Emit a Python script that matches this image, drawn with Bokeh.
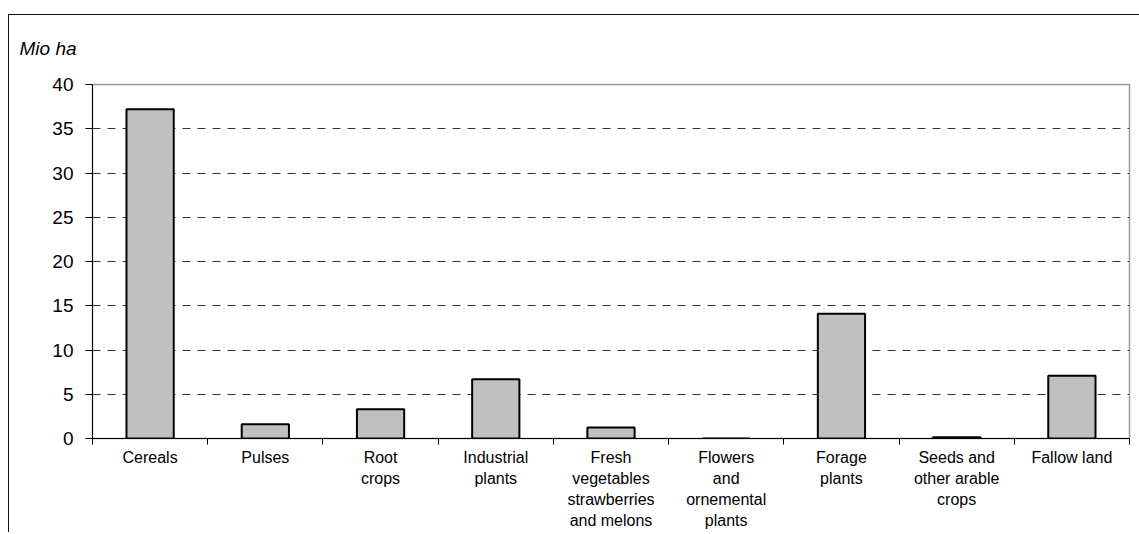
from bokeh.plotting import figure
from bokeh.models import Range1d, FixedTicker, LinearAxis, Grid
from bokeh.embed import file_html
from bokeh.resources import INLINE

categories = ["Cereals", "Pulses", "Root\ncrops", "Industrial\nplants",
              "Fresh\nvegetables\nstrawberries\nand melons",
              "Flowers\nand\nornemental\nplants", "Forage\nplants",
              "Seeds and\nother arable\ncrops", "Fallow land"]
values = [37.2, 1.6, 3.3, 6.7, 1.25, 0.0, 14.1, 0.15, 7.1]
y_ticks = [0, 5, 10, 15, 20, 25, 30, 35, 40]
unit_label = "Mio ha"

n = len(categories)
centers = [i + 0.5 for i in range(n)]
bounds = [float(i) for i in range(n + 1)]

p = figure(frame_width=1037, frame_height=354, output_backend="svg", toolbar_location=None,
           x_range=Range1d(0, n), y_range=Range1d(0, 40),
           x_axis_type=None, y_axis_type=None, title=unit_label + "\n",
           min_border_left=83, min_border_right=10, min_border_top=69, min_border_bottom=81)
p.styles = {"margin-top": "14px", "margin-left": "8px",
            "border-top": "1px solid #111", "border-left": "1px solid #111"}
p.background_fill_color = "white"
p.border_fill_color = "white"
p.outline_line_color = "#999999"
p.outline_line_width = 1.5

p.title.text_font = "Liberation Sans"
p.title.text_font_style = "italic"
p.title.text_font_size = "19px"
p.title.text_color = "black"
p.title.align = "left"
p.title.offset = -73
p.title.standoff = 10

p.vbar(x=centers, top=values, width=0.41, bottom=0, fill_color="#c0c0c0",
       line_color="black", line_width=2)

yaxis = LinearAxis(ticker=FixedTicker(ticks=y_ticks))
yaxis.axis_line_color = "black"
yaxis.axis_line_width = 1
yaxis.major_tick_out = 7
yaxis.major_tick_in = 0
yaxis.minor_tick_line_color = None
yaxis.major_label_text_font = "Liberation Sans"
yaxis.major_label_text_font_size = "19px"
yaxis.major_label_text_color = "black"
yaxis.major_label_standoff = 12
p.add_layout(yaxis, "left")

xaxis = LinearAxis(ticker=FixedTicker(ticks=centers, minor_ticks=bounds))
xaxis.axis_line_color = "black"
xaxis.major_tick_line_color = None
xaxis.minor_tick_out = 6
xaxis.minor_tick_in = 0
xaxis.minor_tick_line_color = "black"
xaxis.major_label_overrides = {c: lab for c, lab in zip(centers, categories)}
xaxis.major_label_text_font = "Liberation Sans"
xaxis.major_label_text_font_size = "16px"
xaxis.major_label_text_color = "black"
xaxis.major_label_text_line_height = 1.25
xaxis.major_label_standoff = 4
p.add_layout(xaxis, "below")

g = Grid(dimension=1, ticker=FixedTicker(ticks=y_ticks))
g.grid_line_color = "#333333"
g.grid_line_dash = "8 7"
g.grid_line_width = 1
p.add_layout(g)

open("out.html", "w").write(file_html(p, INLINE))
